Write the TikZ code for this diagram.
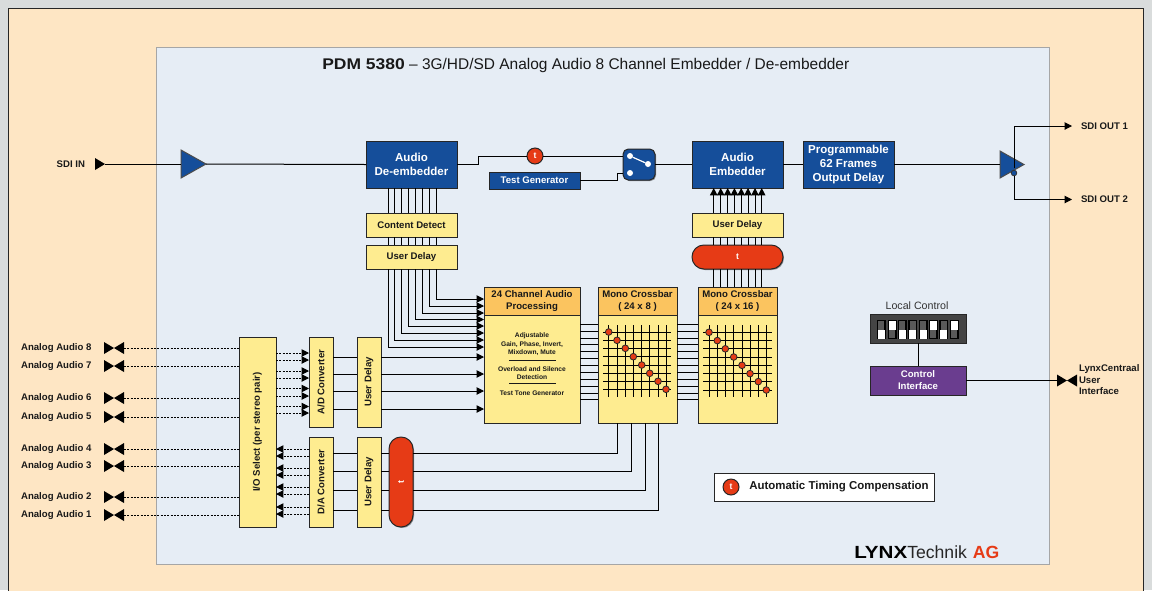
\documentclass[tikz,border=0pt]{standalone}
\usepackage{fontspec}
\usepackage{graphicx}
\setmainfont{Liberation Sans}
\usetikzlibrary{arrows.meta,shadows}
\definecolor{pagegray}{HTML}{D9DCDC}
\definecolor{peach}{HTML}{FEE6C4}
\definecolor{panel}{HTML}{E6EDF5}
\definecolor{lynxblue}{HTML}{154E9A}
\definecolor{lynxyellow}{HTML}{FEEC90}
\definecolor{lynxorange}{HTML}{FBC45F}
\definecolor{lynxred}{HTML}{E63B16}
\definecolor{lynxpurple}{HTML}{6A3D8F}
\definecolor{dipgray}{HTML}{444444}
\newcommand{\bx}[7]{\node[#1,minimum width={(#5-#3)*0.75pt},minimum height={(#6-#4)*0.75pt}] (#2) at ({(#3+#5)/2},{(#4+#6)/2}) {#7};}
\newcommand{\tiebow}[2]{\fill[black] (#1,#2-6)--(#1+20,#2+6)--(#1+20,#2-6)--(#1,#2+6)--cycle;}
\tikzset{
  base/.style={draw=black!85,line width=0.75pt,inner sep=0pt,outer sep=0pt,align=center,
    drop shadow={shadow xshift=0.75pt,shadow yshift=-0.75pt,fill=black,opacity=.4}},
  bluebox/.style={base,fill=lynxblue,text=white,font=\fontsize{8.65}{10.5}\selectfont\bfseries},
  smallblue/.style={base,fill=lynxblue,text=white,font=\fontsize{7.2}{9}\selectfont\bfseries},
  yellowbox/.style={base,fill=lynxyellow,text=black!90,font=\fontsize{7.2}{9}\selectfont\bfseries},
  headbox/.style={base,fill=lynxorange,text=black!90,font=\fontsize{7.2}{9}\selectfont\bfseries},
  redcap/.style={base,fill=lynxred,text=white,rounded corners=8.9pt,font=\fontsize{6.5}{8}\selectfont\bfseries},
  purplebox/.style={base,fill=lynxpurple,text=white,font=\fontsize{7.2}{9}\selectfont\bfseries},
  tcircle/.style={circle,draw=black!85,line width=0.75pt,fill=lynxred,text=white,minimum size=12pt,inner sep=0pt,outer sep=0pt,font=\fontsize{6.5}{8}\selectfont\bfseries},
  lbl/.style={inner sep=0pt,outer sep=0pt,text=black!90,font=\fontsize{7.2}{9}\selectfont\bfseries,align=left},
  tiny/.style={inner sep=0pt,outer sep=0pt,text=black!90,font=\fontsize{5}{6}\selectfont\bfseries,align=center},
  wire/.style={draw=black,line width=0.75pt},
  arr/.style={wire,-{Triangle[length=5.6pt,width=5.6pt]}},
  dots/.style={draw=black,line width=0.75pt,dash pattern=on 1.6pt off 0.9pt},
  darr/.style={dots,-{Triangle[length=5.6pt,width=5.6pt]}},
  amp/.style={draw=black!70,line width=0.75pt,fill=lynxblue},
  xdot/.style={circle,draw=black!85,line width=0.6pt,fill=lynxred,minimum size=5pt,inner sep=0pt},
  swdot/.style={circle,fill=white,minimum size=4.5pt,inner sep=0pt,outer sep=0pt},
}
\begin{document}
\begin{tikzpicture}[x=0.75pt,y=-0.75pt]
\useasboundingbox (0,0) rectangle (1152,590);
\fill[pagegray] (0,0) rectangle (1152,590);
\begin{scope}
\clip (0,0) rectangle (1152,590);
\draw[fill=peach,draw=black!85,line width=0.75pt] (8.5,8.5) rectangle (1143.5,600);
\end{scope}
\draw[fill=panel,draw=black!35,line width=0.75pt] (156.5,47) rectangle (1049,564);

% title and logo
\node[inner sep=0pt,anchor=west,font=\fontsize{11.6}{13}\selectfont,text=black!90] (title) at (322,65.5)
  {\scalebox{1.13}[1]{\bfseries PDM 5380} – 3G/HD/SD Analog Audio 8 Channel Embedder / De-embedder};
\node[inner sep=0pt,anchor=west,font=\fontsize{13.2}{15}\selectfont] (logo) at (854,552)
  {\scalebox{1.17}[1]{\bfseries LYNX}\textcolor{black!85}{Technik}\hspace{4.5pt}\textcolor{lynxred}{\bfseries AG}};

% top row
\coordinate (sdiin) at (105,164);
\fill[black] (95,158)--(105,164)--(95,170)--cycle;
\node[lbl,anchor=east] (sdiinl) at (85,164) {SDI IN};
\coordinate (amp1w) at (181,164); \coordinate (amp1e) at (206,164);
\draw[amp] (181,150)--(206,164)--(181,178)--cycle;
\bx{bluebox}{deemb}{366}{141}{457}{188}{Audio\\De-embedder}
\node[tcircle] (tc) at (535,156) {t};
\bx{smallblue}{testgen}{489}{172}{580}{189}{Test Generator}
\bx{bluebox,rounded corners=4pt}{sw}{623}{149}{655}{180}{}
\node[swdot] (swa) at (630,156) {};
\node[swdot] (swb) at (648,164) {};
\node[swdot] (swc) at (630,173) {};
\draw[white,line width=0.9pt] (swa) -- (swb);
\bx{bluebox}{emb}{692}{141}{783}{188}{Audio\\Embedder}
\bx{bluebox}{odelay}{803}{141}{894}{188}{Programmable\\62 Frames\\Output Delay}
\coordinate (amp2w) at (1000,164.5); \coordinate (amp2e) at (1024,164.5);
\coordinate (amp2o) at (1014,173);
\draw[amp] (1000,151)--(1024,164.5)--(1000,178)--cycle;
\node[circle,draw=black!80,line width=0.6pt,fill=lynxblue,minimum size=4.2pt,inner sep=0pt,outer sep=0pt] (ampdot) at (amp2o) {};
\node[lbl,anchor=west] (out1) at (1081,126) {SDI OUT 1};
\node[lbl,anchor=west] (out2) at (1081,199.5) {SDI OUT 2};
\coordinate (out1t) at (1072,126); \coordinate (out2t) at (1072,199.5);

\draw[wire] (sdiin) -- (amp1w);
\draw[wire] (amp1e) -- (deemb.west);
\draw[wire] (deemb.east) -- (478,164.5) -- (478,156) -- (tc.west);
\draw[wire] (tc.east) -- (sw.west |- tc);
\draw[wire] (testgen.east) -- (617,180.5) -- (617,173) -- (sw.west |- swc);
\draw[wire] (sw.east) -- (emb.west);
\draw[wire] (emb.east) -- (odelay.west);
\draw[wire] (odelay.east) -- (amp2w);
\draw[arr] (1014,168) -- (1014,126) -- (out1t);
\draw[arr] (ampdot.south) -- (1014,199.5) -- (out2t);

% de-embedder chain
\bx{yellowbox}{cdet}{366}{213}{457}{237}{Content Detect}
\bx{yellowbox}{ud1}{366}{245}{457}{269}{User Delay}
\foreach \xv in {388,394.9,401.7,408.6,415.4,422.3,429.1,436}{
  \draw[wire] (\xv,0 |- deemb.south) -- (\xv,0 |- cdet.north);
  \draw[wire] (\xv,0 |- cdet.south) -- (\xv,0 |- ud1.north);
}

% processing and crossbars
\bx{headbox}{proch}{484}{287}{580}{315}{24 Channel Audio\\Processing}
\bx{yellowbox}{proc}{484}{315}{580}{423}{}
\bx{headbox}{cb1h}{598}{287}{677}{315}{Mono Crossbar\\( 24 x 8 )}
\bx{yellowbox}{cb1}{598}{315}{677}{423}{}
\bx{headbox}{cb2h}{698}{287}{777}{315}{Mono Crossbar\\( 24 x 16 )}
\bx{yellowbox}{cb2}{698}{315}{777}{423}{}
\node[tiny] (p1) at (532,335.7) {Adjustable};
\node[tiny] (p2) at (532,344.7) {Gain, Phase, Invert,};
\node[tiny] (p3) at (532,352.7) {Mixdown, Mute};
\node[tiny] (p4) at (532,368.7) {Overload and Silence};
\node[tiny] (p5) at (532,376.7) {Detection};
\node[tiny] (p6) at (532,392.7) {Test Tone Generator};
\draw[black!90,line width=0.7pt] (509,360) -- (556,360);
\draw[black!90,line width=0.7pt] (509,383.7) -- (556,383.7);

\foreach \xv/\yv in {388/347,394.9/340,401.7/333,408.6/326,415.4/319.5,422.3/313,429.1/306,436/299}{
  \draw[arr] (\xv,0 |- ud1.south) -- (\xv,\yv) -- (proch.west |- 0,\yv);
}
\foreach \yv in {324.3,331.2,338,344.9,351.8,358.7,365.5,372.4,379.2,386.1,393,399.8}{
  \draw[wire] (proc.east |- 0,\yv) -- (cb1.west |- 0,\yv);
  \draw[wire] (cb1.east |- 0,\yv) -- (cb2.west |- 0,\yv);
}
% crossbar grids
\foreach \xv in {608.7,617,625.3,633.3,641.7,649.7,658,666} \draw[wire] (\xv,325) -- (\xv,397);
\foreach \yv in {332,340.3,348.3,356.7,365,373.3,381.3,389.3} \draw[wire] (603,\yv) -- (671,\yv);
\foreach \xv in {709,717.3,725.3,733.7,742,750,758.3,766.3} \draw[wire] (\xv,325) -- (\xv,397);
\foreach \yv in {332.3,340.6,348.8,357,365.3,373.6,381.6,390} \draw[wire] (703,\yv) -- (772,\yv);
\foreach \xv/\yv in {608.7/332,617/340.3,625.3/348.3,633.3/356.7,641.7/365,649.7/373.3,658/381.3,666/389.3,
  709/332.3,717.3/340.6,725.3/348.8,733.7/357,742/365.3,750/373.6,758.3/381.6,766.3/390}
  \node[xdot] at (\xv,\yv) {};

% embedder chain
\bx{yellowbox}{ud2}{692}{213}{783}{237}{User Delay}
\bx{redcap}{tbar}{692}{245}{783}{269}{t}
\foreach \xv in {713.7,720.7,727.7,734.4,741.2,748,755,761.7}{
  \draw[wire] (\xv,0 |- cb2h.north) -- (\xv,0 |- tbar.south);
  \draw[wire] (\xv,0 |- tbar.north) -- (\xv,0 |- ud2.south);
  \draw[arr] (\xv,0 |- ud2.north) -- (\xv,0 |- emb.south);
}

% analog section
\bx{yellowbox}{io}{239}{337}{276}{527}{\rotatebox{90}{I/O Select (per stereo pair)}}
\bx{yellowbox}{ad}{309}{337}{333}{427}{\rotatebox{90}{A/D Converter}}
\bx{yellowbox}{ud3}{357}{337}{381}{427}{\rotatebox{90}{User Delay}}
\bx{yellowbox}{da}{309}{437}{333}{527}{\rotatebox{90}{D/A Converter}}
\bx{yellowbox}{ud4}{357}{437}{381}{527}{\rotatebox{90}{User Delay}}
\bx{redcap}{tv}{389}{437}{413}{527}{\rotatebox{90}{t}}

\foreach \yv in {357,374,391,409}{
  \draw[wire] (ad.east |- 0,\yv) -- (ud3.west |- 0,\yv);
  \draw[arr] (ud3.east |- 0,\yv) -- (proc.west |- 0,\yv);
}
\foreach \yv in {353,360,371,378,388.5,396,406.5,413}
  \draw[darr] (io.east |- 0,\yv) -- (ad.west |- 0,\yv);
\foreach \yv in {449,456,468,475,487,494,507,514}
  \draw[darr] (da.west |- 0,\yv) -- (io.east |- 0,\yv);
\foreach \xv/\yv in {617/453,631/471,645/490,658/510}{
  \draw[wire] (da.east |- 0,\yv) -- (ud4.west |- 0,\yv);
  \draw[wire] (ud4.east |- 0,\yv) -- (tv.west |- 0,\yv);
  \draw[wire] (\xv,0 |- cb1.south) -- (\xv,\yv) -- (tv.east |- 0,\yv);
}

% analog connectors
\foreach \n/\yv in {8/348,7/366,6/398,5/417,4/449,3/466,2/497,1/515}{
  \tiebow{104}{\yv}
  \coordinate (tie\n) at (124,\yv);
  \node[lbl,anchor=east] (al\n) at (91.5,\yv) {Analog Audio \n};
  \draw[dots] (tie\n) -- (io.west |- tie\n);
}

% control
\node[inner sep=0pt,font=\fontsize{8}{10}\selectfont,text=black!80] (lcl) at (917,306) {Local Control};
\bx{base,fill=dipgray}{dip}{870}{314}{966}{343}{}
\foreach \xv/\up in {881.3/0,892/1,902.3/0,912.7/0,923/0,933.3/1,943.7/0,954.3/1}{
  \fill[black] (\xv-4.5,320) rectangle (\xv+4.5,339);
  \fill[black!65] (\xv-3,321) rectangle (\xv+3,338);
  \ifnum\up=1 \fill[white] (\xv-3.5,320.5) rectangle (\xv+3.5,329.5);
  \else \fill[white] (\xv-3.5,329.5) rectangle (\xv+3.5,338.5); \fi
}
\bx{purplebox}{ctrl}{870}{366}{966}{395}{Control\\Interface}
\draw[wire] (dip.south) -- (ctrl.north);
\tiebow{1057}{380.5}
\coordinate (ctrltie) at (1057,380.5);
\draw[wire] (ctrl.east) -- (ctrltie);
\node[lbl,anchor=west,text width=60pt,font=\fontsize{7.2}{8.6}\selectfont\bfseries] (lcl2) at (1079,379.8) {LynxCentraal\\User\\Interface};

% legend
\bx{base,fill=white}{legend}{714}{473}{934}{501}{}
\node[tcircle] (legt) at (731,487) {t};
\node[inner sep=0pt,anchor=west,font=\fontsize{8.6}{10}\selectfont\bfseries,text=black!90] (legl) at (749,487) {Automatic Timing Compensation};
\end{tikzpicture}
\end{document}
